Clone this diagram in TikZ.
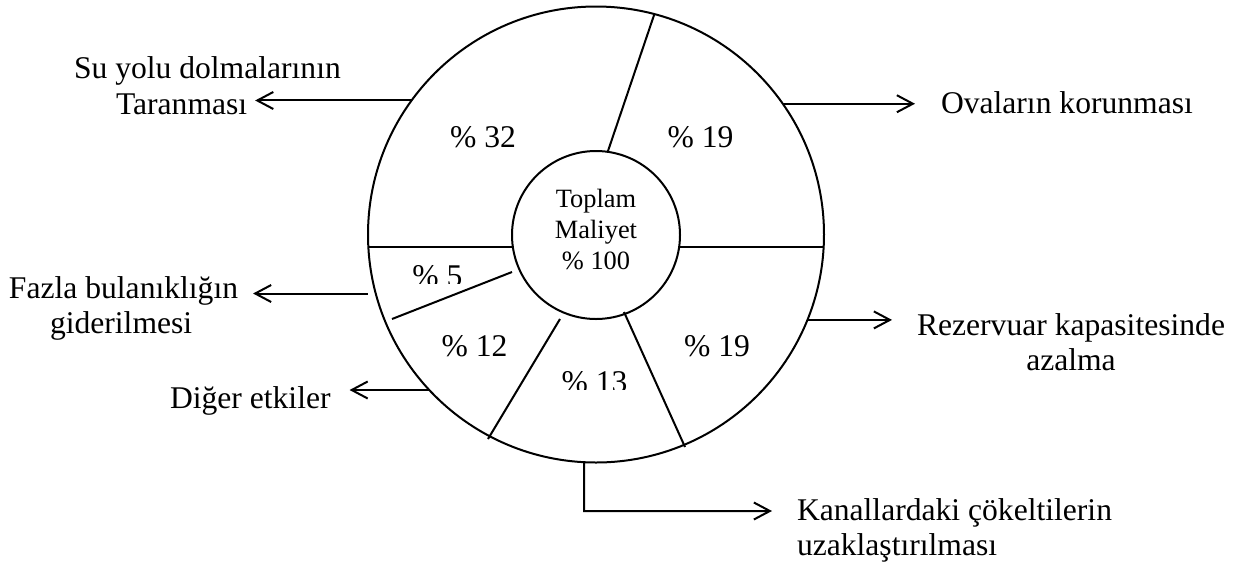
\documentclass[tikz,border=0pt]{standalone}
\usepackage{fontspec}
\setmainfont{Liberation Serif}
\usetikzlibrary{arrows.meta,calc}
\begin{document}
\begin{tikzpicture}[x=1pt,y=-1pt,line width=2pt,
  lbl/.style={font=\fontsize{31.6}{36}\selectfont,inner sep=0pt},
  pct/.style={font=\fontsize{31.6}{36}\selectfont,inner sep=0pt,anchor=base},
  ctr/.style={font=\fontsize{26.4}{31}\selectfont,inner sep=0pt,anchor=base},
  arr/.style={-{Straight Barb[length=16pt,width=17pt]},line width=2pt},
  ringstyle/.style={circle,draw,inner sep=0pt,outer sep=0pt}]
\useasboundingbox (0,0) rectangle (1256,566);

% the two circles of the cost wheel
\node[ringstyle,minimum size=456pt] (ring) at (596,234.5) {};
\node[ringstyle,minimum size=168pt] (core) at (596,235) {};

% sector dividers
\draw (368.3,247) -- (512.9,247);
\draw (679.1,247) -- (823.7,247);
\draw (608,151) -- (654.4,14);
\draw (512,272) -- (392,319);
\draw (560,319) -- (488,439);
\draw (624,312) -- (685,447);

% sector shares
\node[pct] (p32) at (483,147) {\% 32};
\node[pct] (p19a) at (700.5,147) {\% 19};
\node[pct] (p12) at (474.5,356) {\% 12};
\node[pct] (p19b) at (717,356) {\% 19};
\begin{scope}
  \clip (400,250) rectangle (480,283);
  \node[pct] (p5) at (437.5,286.5) {\% 5};
\end{scope}
\begin{scope}
  \clip (550,360) rectangle (640,389.5);
  \node[pct] (p13) at (594.5,392.7) {\% 13};
\end{scope}

% centre text
\node[ctr] (c1) at (596,207) {Toplam};
\node[ctr] (c2) at (596,238) {Maliyet};
\node[ctr] (c3) at (596,269) {\% 100};

% outer labels
\node[lbl,anchor=base west] (su1) at (73,78) {Su yolu dolmalarının};
\node[lbl,anchor=base west] (su2) at (115,114) {Taranması};
\node[lbl,anchor=base west] (fz1) at (8,298) {Fazla bulanıklığın};
\node[lbl,anchor=base west] (fz2) at (49,333) {giderilmesi};
\node[lbl,anchor=base west] (dg) at (169,408) {Diğer etkiler};
\node[lbl,anchor=base west] (ov) at (940,113) {Ovaların korunması};
\node[lbl,anchor=base] (rz1) at (1071,335) {Rezervuar kapasitesinde};
\node[lbl,anchor=base] (rz2) at (1071,370) {azalma};
\node[lbl,anchor=base west] (kn1) at (796,520) {Kanallardaki çökeltilerin};
\node[lbl,anchor=base west] (kn2) at (796,555) {uzaklaştırılması};

% arrows from the wheel to the labels
\draw[arr] (ring.144.5) -- ($(ring.144.5 -| su2.east)+(7,0)$);
\draw[arr] ($(ring.195.4)+(-8,0)$) -- ($(ring.195.4 -| fz1.east)+(14,0)$);
\draw[arr] (ring.223.35) -- ($(ring.223.35 -| dg.east)+(18,0)$);
\draw[arr] (ring.35.2) -- ($(ring.35.2 -| ov.west)+(-25,0)$);
\draw[arr] (ring.338.5) -- ($(ring.338.5 -| rz1.west)+(-24,0)$);
\coordinate (bend) at (584.1,511);
\draw[arr] (ring.267) -- (bend) -- ($(bend -| kn1.west)+(-24,0)$);
\end{tikzpicture}
\end{document}
